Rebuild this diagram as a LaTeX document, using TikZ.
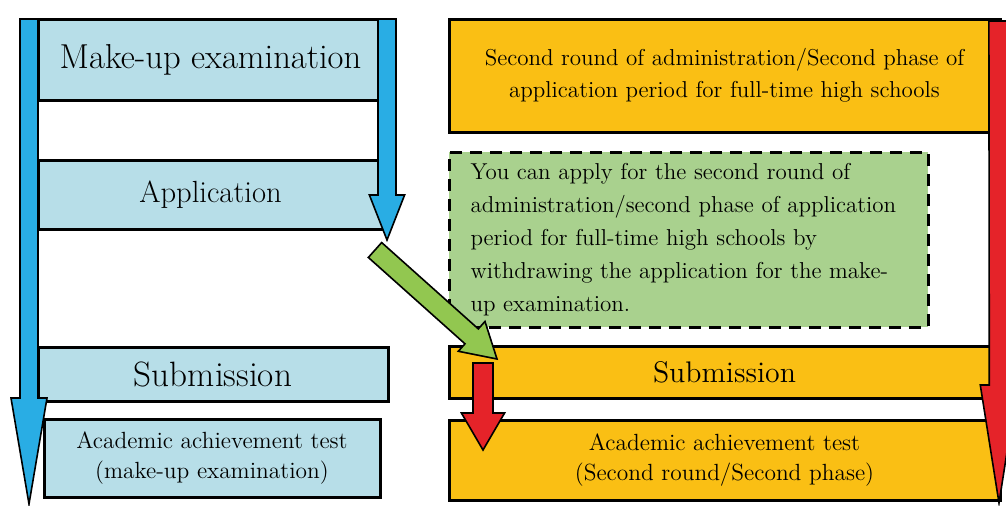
\documentclass[tikz,border=0pt]{standalone}
\usetikzlibrary{calc,positioning}
\definecolor{boxblue}{HTML}{B7DEE8}
\definecolor{arrowblue}{HTML}{29ADE4}
\definecolor{boxorange}{HTML}{FABF14}
\definecolor{notegreen}{HTML}{A9D18E}
\definecolor{arrowgreen}{HTML}{92C750}
\definecolor{arrowred}{HTML}{E52329}
% #1 style, #2 from, #3 to, #4 shaft half width, #5 head half width, #6 head length
\newcommand{\blockarrow}[6]{%
  \coordinate (ba-h) at ($(#3)!#6!(#2)$);
  \draw[#1] ($(#2)!#4!90:(#3)$) -- ($(ba-h)!#4!90:(#3)$) -- ($(ba-h)!#5!90:(#3)$) -- (#3)
    -- ($(ba-h)!#5!-90:(#3)$) -- ($(ba-h)!#4!-90:(#3)$) -- ($(#2)!#4!-90:(#3)$) -- cycle;
}

\begin{document}
\begin{tikzpicture}[x=0.5pt, y=-0.5pt,
  box/.style={draw, line width=1.5pt, inner sep=0pt},
  blue box/.style={box, fill=boxblue},
  orange box/.style={box, fill=boxorange},
  note box/.style={box, fill=notegreen, dash pattern=on 6pt off 4pt},
  small text/.style={font=\fontsize{11.7}{15}\selectfont, align=center},
  fat arrow/.style={draw, line width=0.8pt, line join=miter}]
\useasboundingbox (0,0) rectangle (1006,505);
\begin{scope}
\node[blue box, font=\fontsize{17.3}{20}\selectfont, minimum width=172.5pt, minimum height=40.5pt] (makeup) at (210.5,59.5) {Make-up examination};
\node[blue box, font=\fontsize{15.3}{18}\selectfont, minimum width=172.5pt, minimum height=34.5pt] (apply) at (210.5,194.5) {Application};
\node[blue box, font=\fontsize{17.6}{20}\selectfont, minimum width=175pt, minimum height=27pt] (subL) at (213,374) {Submission};
\node[blue box, small text, minimum width=168pt, minimum height=39pt] (testL) at (212,458) {Academic achievement test\\(make-up examination)};
\node[orange box, small text, font=\fontsize{11.5}{16}\selectfont, minimum width=275.5pt, minimum height=56.5pt] (second) at (724.5,75.5) {Second round of administration/Second phase of\\application period for full-time high schools};
\node[note box, font=\fontsize{11.5}{16.5}\selectfont, align=left, text width=218pt, minimum width=239.5pt, minimum height=87.5pt] (note) at (688.5,239.5) {You can apply for the second round of\\administration/second phase of application\\period for full-time high schools by\\withdrawing the application for the make-\\up examination.};
\node[orange box, font=\fontsize{14.9}{17}\selectfont, minimum width=275.5pt, minimum height=26pt] (subR) at (724.5,372) {Submission};
\node[orange box, small text, minimum width=275.5pt, minimum height=40pt] (testR) at (724.5,460) {Academic achievement test\\(Second round/Second phase)};
\end{scope}
\begin{scope}
\coordinate (blueL-a) at (29,19);
\coordinate (blueL-b) at (29,504);
\coordinate (blueR-a) at (387,19);
\coordinate (blueR-b) at (387,240);
\coordinate (green-a) at (375,250);
\coordinate (green-b) at (497,359);
\coordinate (redL-a) at (483,363);
\coordinate (redL-b) at (483,450);
\coordinate (redR-a) at (998.5,21);
\coordinate (redR-b) at (999,503);
\blockarrow{fat arrow, fill=arrowblue}{blueL-a}{blueL-b}{4.5pt}{9pt}{53pt}
\blockarrow{fat arrow, fill=arrowblue}{blueR-a}{blueR-b}{4.5pt}{8.8pt}{22.5pt}
\blockarrow{fat arrow, fill=arrowgreen}{green-a}{green-b}{5pt}{10pt}{17pt}
\blockarrow{fat arrow, fill=arrowred}{redL-a}{redL-b}{5pt}{10.8pt}{18.5pt}
\blockarrow{fat arrow, fill=arrowred}{redR-a}{redR-b}{4.8pt}{9.3pt}{59pt}
\end{scope}
\end{tikzpicture}
\end{document}
